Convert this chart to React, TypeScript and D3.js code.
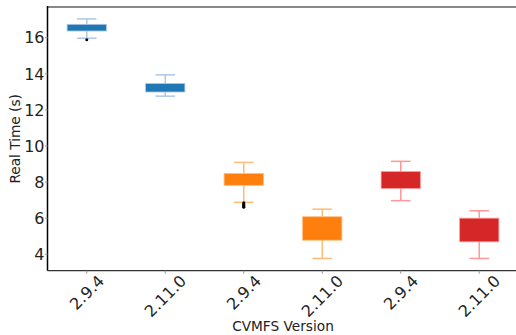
import React, {useEffect, useRef} from "react";
import * as d3 from "d3";

// box stats, one entry per box
const versions = ["2.9.4", "2.11.0", "2.9.4", "2.11.0", "2.9.4", "2.11.0"];
const q1 = [16.37, 12.99, 7.82, 4.78, 7.65, 4.69];
const q3 = [16.74, 13.46, 8.47, 6.08, 8.58, 6.0];
const whiskLow = [15.97, 12.76, 6.88, 3.77, 6.97, 3.77];
const whiskHigh = [17.04, 13.94, 9.09, 6.5, 9.15, 6.41];
const outliers = [[15.89], [], [6.85, 6.8, 6.75, 6.7, 6.65, 6.6], [], [], []];
const yTicks = [4, 6, 8, 10, 12, 14, 16];

const boxColors = ["#1f77b4", "#1f77b4", "#ff7f0e", "#ff7f0e", "#d62728", "#d62728"];
const lightColors = ["#aec7e8", "#aec7e8", "#ffbb78", "#ffbb78", "#ff9896", "#ff9896"];

const W = 516, H = 335;
const margin = {left: 47.5, right: 518.5, top: 7, bottom: 270.7};
const FONT = "'DejaVu Sans', sans-serif";

// DejaVu Sans advance widths for tick text
const textWidth = (s: string, size: number) =>
    s.split("").reduce((a, c) => a + (c === "." ? 0.318 : 0.636), 0) * size;

function draw(el: SVGSVGElement){
    const svg = d3.select(el);
    svg.selectAll("*").remove();

    const idx = versions.map((_, i) => i);
    const x = d3.scalePoint<number>().domain(idx).range([margin.left, margin.right]).padding(0.5);
    const y = d3.scaleLinear().domain([3.09, 17.7]).range([margin.bottom, margin.top]);
    const boxW = x.step() * 0.5;

    const g = svg.append("g");
    idx.forEach(i => {
        const cx = x(i)!;
        const light = lightColors[i];
        // whiskers
        g.append("line").attr("x1", cx).attr("x2", cx).attr("y1", y(q3[i])).attr("y2", y(whiskHigh[i]))
            .attr("stroke", light).attr("stroke-width", 1.5);
        g.append("line").attr("x1", cx).attr("x2", cx).attr("y1", y(q1[i])).attr("y2", y(whiskLow[i]))
            .attr("stroke", light).attr("stroke-width", 1.5);
        [whiskHigh[i], whiskLow[i]].forEach(v => {
            g.append("line").attr("x1", cx - boxW / 4).attr("x2", cx + boxW / 4)
                .attr("y1", y(v)).attr("y2", y(v))
                .attr("stroke", light).attr("stroke-width", 1.5);
        });
        g.append("rect")
            .attr("x", cx - boxW / 2).attr("width", boxW)
            .attr("y", y(q3[i])).attr("height", y(q1[i]) - y(q3[i]))
            .attr("fill", boxColors[i]).attr("stroke", light).attr("stroke-width", 0.8);
        outliers[i].forEach(v => {
            g.append("circle").attr("cx", cx).attr("cy", y(v)).attr("r", 1.5).attr("fill", "black");
        });
    });

    // spines
    svg.append("line").attr("x1", margin.left).attr("x2", margin.right).attr("y1", margin.top).attr("y2", margin.top)
        .attr("stroke", "#888").attr("stroke-width", 2);
    svg.append("line").attr("x1", margin.left).attr("x2", margin.left).attr("y1", margin.top - 1).attr("y2", margin.bottom)
        .attr("stroke", "black").attr("stroke-width", 1.5);
    svg.append("line").attr("x1", margin.left).attr("x2", margin.right).attr("y1", margin.bottom).attr("y2", margin.bottom)
        .attr("stroke", "#333").attr("stroke-width", 1.3);

    // y ticks and labels
    yTicks.forEach(t => {
        svg.append("line").attr("x1", margin.left - 2.5).attr("x2", margin.left).attr("y1", y(t)).attr("y2", y(t))
            .attr("stroke", "#999").attr("stroke-width", 1);
    });
    svg.selectAll("text.ytick").data(yTicks).enter().append("text")
        .attr("class", "ytick")
        .attr("x", 44.5).attr("y", d => y(d))
        .attr("dy", "0.36em")
        .attr("text-anchor", "end")
        .style("font-family", FONT).style("font-size", "16px").style("fill", "#222")
        .text(d => d);

    // x ticks and rotated labels
    idx.forEach(i => {
        const cx = x(i)!;
        svg.append("line").attr("x1", cx).attr("x2", cx).attr("y1", margin.bottom).attr("y2", margin.bottom + 3)
            .attr("stroke", "#999").attr("stroke-width", 1);
        const w = textWidth(versions[i], 16);
        const cy = margin.bottom + 3 + (w + 12) * 0.7071 / 2;
        svg.append("text")
            .attr("x", cx).attr("y", cy)
            .attr("dy", "0.36em")
            .attr("text-anchor", "middle")
            .attr("transform", `rotate(-45, ${cx}, ${cy})`)
            .style("font-family", FONT).style("font-size", "16px").style("fill", "#222")
            .text(versions[i]);
    });

    // axis labels
    svg.append("text")
        .attr("x", (margin.left + margin.right) / 2).attr("y", 331)
        .attr("text-anchor", "middle")
        .style("font-family", FONT).style("font-size", "13.7px").style("fill", "#222")
        .text("CVMFS Version");
    const ly = (margin.top + margin.bottom) / 2;
    svg.append("text")
        .attr("x", 20.5).attr("y", ly)
        .attr("transform", `rotate(-90, 20.5, ${ly})`)
        .attr("text-anchor", "middle")
        .style("font-family", FONT).style("font-size", "13.7px").style("fill", "#222")
        .text("Real Time (s)");
}

export default function App(){
    const ref = useRef<SVGSVGElement>(null);
    useEffect(() => {
        document.body.style.margin = "0";
        if(ref.current) draw(ref.current);
    }, []);
    return <svg ref={ref} width={W} height={H} style={{display: "block", background: "white"}}></svg>;
}
